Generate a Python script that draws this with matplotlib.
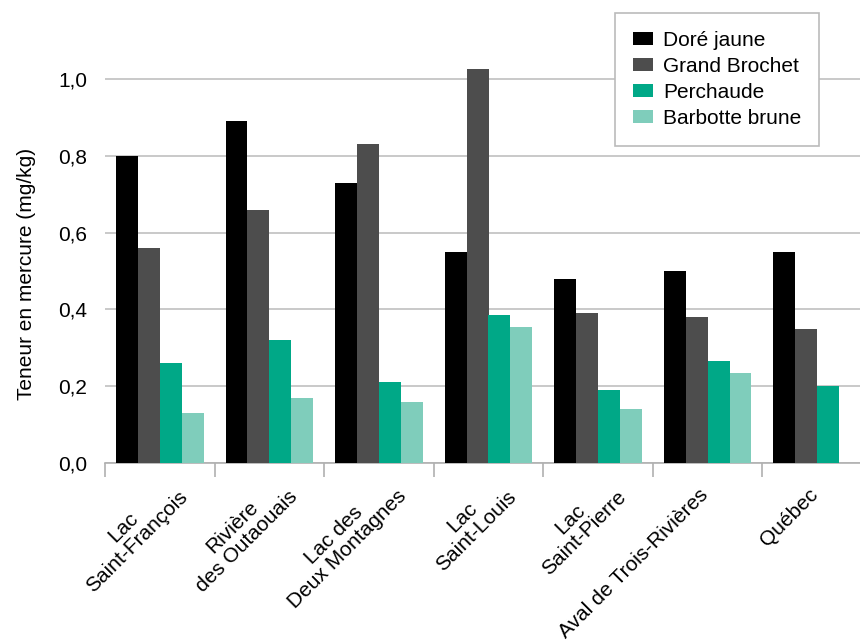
import matplotlib
matplotlib.use('Agg')
from matplotlib import pyplot as plt
from matplotlib import transforms
import numpy as np

plt.rcParams['font.family'] = ['Liberation Sans', 'DejaVu Sans']

sites = ['Lac\nSaint-François', 'Rivière\ndes Outaouais', 'Lac des\nDeux Montagnes',
         'Lac\nSaint-Louis', 'Lac\nSaint-Pierre', 'Aval de Trois-Rivières', 'Québec']
species = ['Doré jaune', 'Grand Brochet', 'Perchaude', 'Barbotte brune']
dore = [0.80, 0.89, 0.73, 0.55, 0.48, 0.50, 0.55]
brochet = [0.56, 0.66, 0.83, 1.025, 0.39, 0.38, 0.35]
perchaude = [0.26, 0.32, 0.21, 0.385, 0.19, 0.265, 0.20]
barbotte = [0.13, 0.17, 0.16, 0.355, 0.14, 0.235, np.nan]
colors = ['#000000', '#4d4d4d', '#00a887', '#7fcdbb']

fs = 15
fig = plt.figure(figsize=(8.6, 6.4), dpi=100)
ax = fig.add_axes([105 / 860, 1 - 463 / 640, 767 / 860, 1.2 * 384 / 640])

x = np.arange(len(sites))
w = 0.2
for i, (vals, name) in enumerate(zip([dore, brochet, perchaude, barbotte], species)):
    ax.bar(x - 0.3 + i * w, vals, w, color=colors[i], label=name, zorder=3)

ax.set_xlim(-0.5, len(sites) - 0.5)
ax.set_ylim(0, 1.2)
yt = np.arange(0, 1.01, 0.2)
ax.set_yticks(yt)
ax.set_yticklabels([('%.1f' % v).replace('.', ',') for v in yt])
ax.yaxis.grid(True, color='#c0c0c0', linewidth=1.2, zorder=0)
ax.tick_params(axis='y', length=0, pad=13, labelsize=fs)

ax.set_xticks(np.arange(len(sites) + 1) - 0.5)
ax.set_xticklabels([])
ax.tick_params(axis='x', length=10, color='#b0b0b0', width=1.2)

# rotated category labels, offset in pixels (top-right corner of the block)
for i, lab in enumerate(sites):
    if '\n' in lab:
        dx, dy = 4, 10
    else:
        dx, dy = -9, 22
    off = transforms.ScaledTranslation(dx / 100, -dy / 100, fig.dpi_scale_trans)
    ax.text(i, 0, lab, transform=ax.get_xaxis_transform() + off, rotation=45,
            ha='right', va='top', rotation_mode='anchor', fontsize=fs,
            multialignment='center', linespacing=1.05)

for s in ['top', 'right', 'left']:
    ax.spines[s].set_visible(False)
ax.spines['bottom'].set_color('#b0b0b0')
ax.spines['bottom'].set_linewidth(1.2)

ax.set_ylabel('Teneur en mercure (mg/kg)', fontsize=fs, labelpad=16, y=0.41)

leg = ax.legend(loc='upper left', bbox_to_anchor=(615 / 860, 1 - 13 / 640),
                bbox_transform=fig.transFigure, fontsize=fs, fancybox=False,
                framealpha=1, edgecolor='#bbbbbb', handlelength=0.96, handleheight=0.62,
                handletextpad=0.5, borderpad=0.85, labelspacing=0.34, borderaxespad=0)
leg.get_frame().set_linewidth(1.2)

plt.savefig('out.png', dpi=100)
